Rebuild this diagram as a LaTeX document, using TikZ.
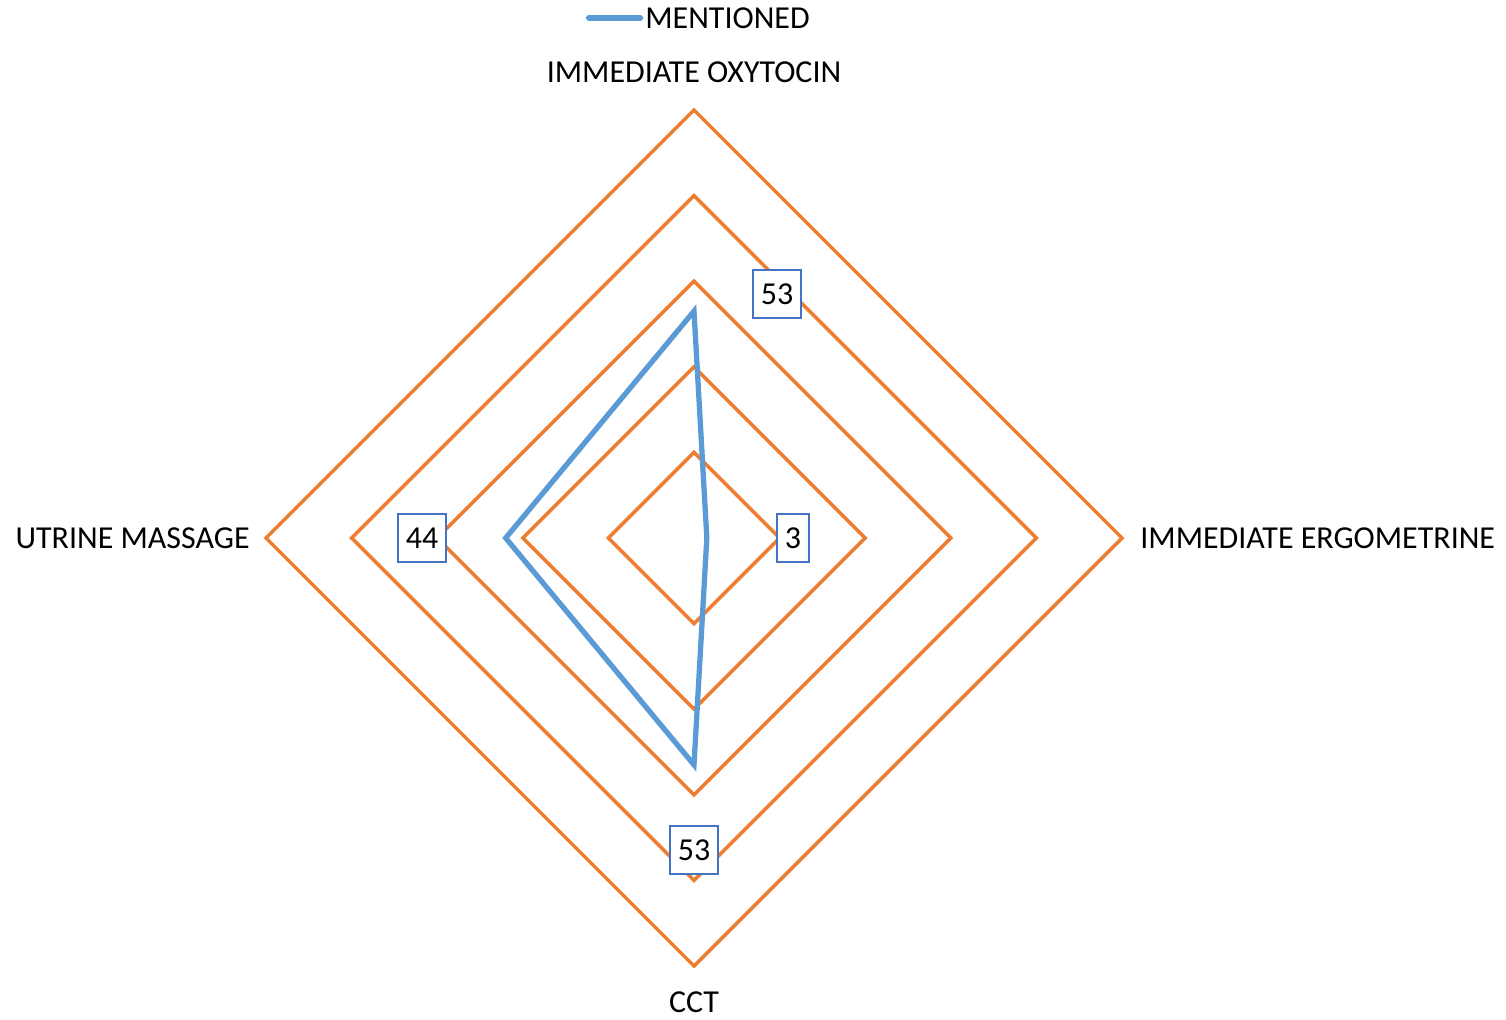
\documentclass[tikz,border=0pt]{standalone}
\usepackage{fontspec}
\setmainfont{Carlito}
\usepackage{xcolor}
\definecolor{ringorange}{HTML}{ED7D31}
\definecolor{seriesblue}{HTML}{5B9BD5}
\definecolor{boxblue}{HTML}{4472C4}

\begin{document}
\begin{tikzpicture}[x=0.02cm,y=0.02cm,font=\fontsize{18.2}{21}\selectfont,
    ring/.style={draw=ringorange,line width=2pt},
    series/.style={draw=seriesblue,line width=3pt,line join=miter},
    vallabel/.style={draw=boxblue,fill=white,line width=1.1pt,inner xsep=0.165cm,minimum height=0.96cm}]
    \useasboundingbox (-694,-481) rectangle (812,538);
    % rings
    \foreach \k in {1,...,5}
        \draw[ring] (0,85.6*\k) -- (85.6*\k,0) -- (0,-85.6*\k) -- (-85.6*\k,0) -- cycle;
    % data points
    \coordinate (oxy) at (0,53*4.28);
    \coordinate (ergo) at (3*4.28,0);
    \coordinate (cct) at (0,-53*4.28);
    \coordinate (mass) at (-44*4.28,0);
    \draw[series] (oxy) -- (ergo) -- (cct) -- (mass) -- cycle;
    % axis labels
    \node (loxy) at (0,466) {IMMEDIATE OXYTOCIN};
    \node[anchor=west,inner sep=0pt] (lergo) at (446,0) {IMMEDIATE ERGOMETRINE};
    \node (lcct) at (0,-464) {CCT};
    \node[anchor=east,inner sep=0pt] (lmass) at (-444,0) {UTRINE MASSAGE};
    % value labels
    \node[vallabel] (voxy) at (83,244) {53};
    \node[vallabel] (vergo) at (99,0) {3};
    \node[vallabel] (vcct) at (0,-312) {53};
    \node[vallabel] (vmass) at (-272,0) {44};
    % legend
    \coordinate (lega) at (-105,520);
    \coordinate (legb) at (-54,520);
    \draw[series,line width=3.5pt,line cap=round] (lega) -- (legb);
    \node[anchor=west,inner sep=0pt] (legtext) at (-49,520) {MENTIONED};
\end{tikzpicture}
\end{document}
